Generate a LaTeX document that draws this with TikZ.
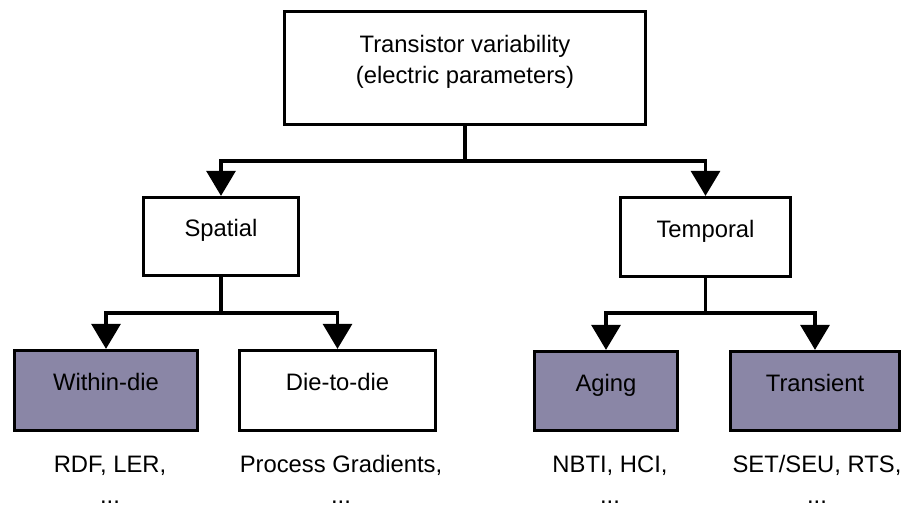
\documentclass[tikz,border=0pt]{standalone}
\usepackage{fontspec}
\setmainfont{Liberation Sans}
\usepackage{tikz}
\usetikzlibrary{
arrows.meta,
positioning
}
\definecolor{diefill}{RGB}{138,134,166}

\begin{document}
\begin{tikzpicture}[x=1pt,y=-1pt,
      font=\fontsize{23.8}{31}\selectfont,
      box/.style={draw,line width=3.3pt,inner sep=0pt,text height=9pt,text depth=9pt},
      shaded/.style={box,fill=diefill},
      note/.style={align=center,anchor=base},
      link/.style={line width=3.3pt,-{Triangle[width=29pt,length=25pt]}}]
      \useasboundingbox (0,0) rectangle (907,506);

      % root
      \node[box,align=center,minimum width=361pt,minimum height=113pt,text height=48pt,text depth=17pt] (tv) at (465,68)
        {Transistor variability\\(electric parameters)};

      % second level
      \node[box,minimum width=155pt,minimum height=78pt] (spatial) at (221,236.5) {Spatial};
      \node[box,minimum width=170pt,minimum height=79pt] (temporal) at (705.5,237) {Temporal};

      % leaves
      \node[shaded,minimum width=183pt,minimum height=80pt] (within) at (106,390.5) {Within-die};
      \node[box,minimum width=196pt,minimum height=80pt] (d2d) at (337.5,390.5) {Die-to-die};
      \node[shaded,minimum width=143pt,minimum height=79pt] (aging) at (606,391) {Aging};
      \node[shaded,minimum width=169pt,minimum height=79pt] (transient) at (815,391) {Transient};

      \node[note] (withinex) at (110,503) {RDF, LER,\\...};
      \node[note] (d2dex) at (341,503) {Process Gradients,\\...};
      \node[note] (agingex) at (610,503) {NBTI, HCI,\\...};
      \node[note] (transientex) at (817,503) {SET/SEU, RTS,\\...};

      % branches
      \coordinate (j0) at (465,161);
      \coordinate (j1) at (221,313);
      \coordinate (j2) at (705.5,313);

      \draw[link] (tv.south) -- (j0) -| (spatial.north);
      \draw[link] (j0) -| (temporal.north);
      \draw[link] (spatial.south) -- (j1) -| (within.north);
      \draw[link] (j1) -| (d2d.north);
      \draw[link] (temporal.south) -- (j2) -| (aging.north);
      \draw[link] (j2) -| (transient.north);

   \end{tikzpicture}
\end{document}
